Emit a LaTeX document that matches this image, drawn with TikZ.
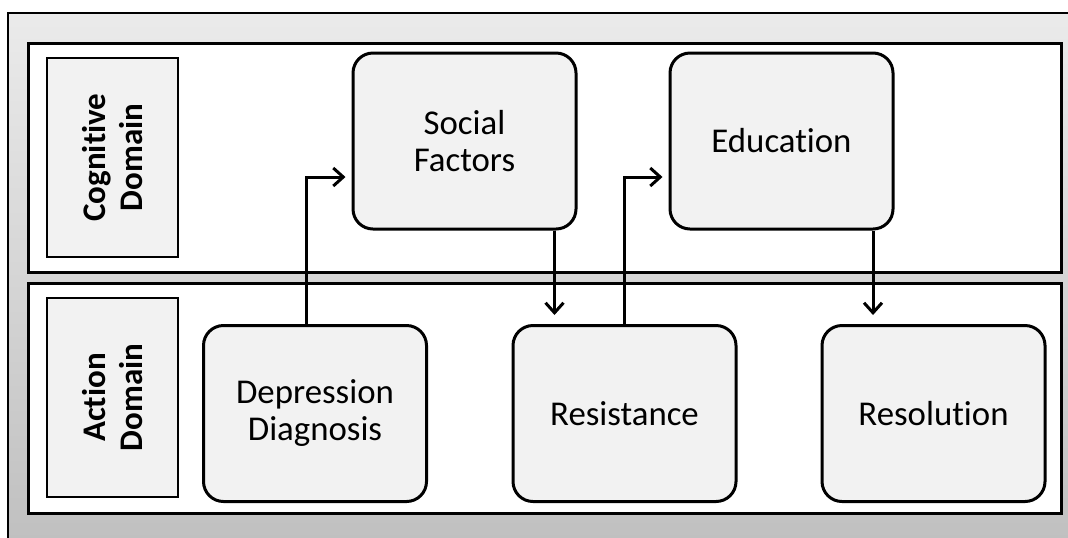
\documentclass[tikz,border=0pt]{standalone}
\usepackage{fontspec}
\setmainfont{Carlito}[Ligatures=NoCommon, Contextuals=NoAlternate]
\usepackage{tikz}
\usetikzlibrary{arrows.meta}
\usetikzlibrary{calc}

\definecolor{boxfill}{HTML}{F2F2F2}

\begin{document}
\begin{tikzpicture}[
            x=0.5pt, y=-0.5pt,
            panel/.style={rectangle, draw=black, line width=1.5pt, fill=white, inner sep=0pt},
            domainlabel/.style={rectangle, draw=black, line width=1.4pt, fill=boxfill, rotate=90, align=center,
                minimum width=99.5pt, minimum height=65.5pt, inner sep=0pt,
                font=\fontsize{16.5}{18.5}\selectfont\bfseries},
            stagebox/.style={rectangle, rounded corners=10pt, draw=black, line width=1.5pt, fill=boxfill, align=center,
                minimum width=111.5pt, minimum height=88pt, inner sep=0pt,
                font=\fontsize{17.4}{18.5}\selectfont},
            flow/.style={line width=1.5pt, -{Straight Barb[length=5pt,width=9pt,line width=1.5pt]}, draw=black},
        ]

        % Frame.
        \clip (0,0) rectangle (1068,537);
        \shade[top color=black!8, bottom color=black!25, draw=black, line width=0.75pt] (8,13) rectangle (1080,550);

        % Panels.
        \node[panel, minimum width=516.5pt, minimum height=114.5pt] (cognitive_panel) at (544.5,157.5) {};
        \node[panel, minimum width=516.5pt, minimum height=115pt]   (action_panel)    at (544.5,398)   {};

        % Domain labels.
        \node[domainlabel] (cognitive_label) at (112.5,157.5) {Cognitive\\Domain};
        \node[domainlabel] (action_label)    at (112.5,397.5) {Action\\Domain};

        % Nodes.
        \node[stagebox] (social_factors) at (464.5,141)   {Social\\Factors};
        \node[stagebox] (education)      at (781.5,141)   {Education};
        \node[stagebox] (depression)     at (315,413.5)   {Depression\\Diagnosis};
        \node[stagebox] (resistance)     at (624.5,413.5) {Resistance};
        \node[stagebox] (resolution)     at (933.5,413.5) {Resolution};

        % Lines.
        \draw[flow] ([xshift=-4.5pt]depression.north) |- ($(social_factors.west)+(-3pt,-18pt)$);
        \draw[flow] ([xshift=45pt]social_factors.south) -- ($(social_factors.south |- resistance.north)+(45pt,4.5pt)$);
        \draw[flow] (resistance.north) |- ($(education.west)+(-3pt,-18pt)$);
        \draw[flow] ([xshift=45.75pt]education.south) -- ($(education.south |- resolution.north)+(45.75pt,4.5pt)$);
    \end{tikzpicture}
\end{document}
